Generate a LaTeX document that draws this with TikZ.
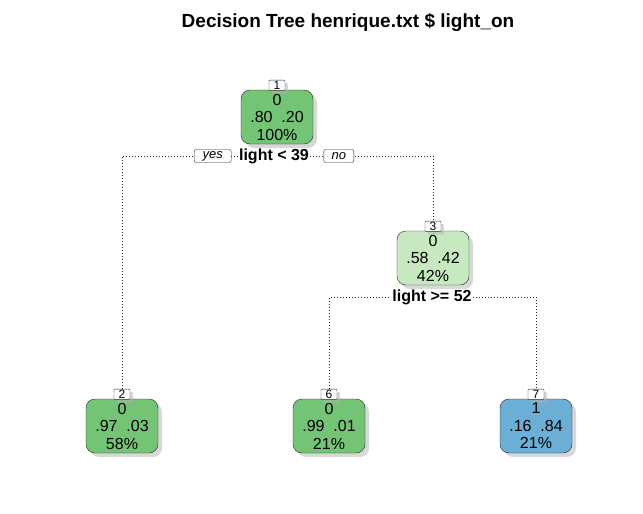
\documentclass[tikz,border=0pt]{standalone}
\usepackage{fontspec}
\setmainfont{Liberation Sans}
\usetikzlibrary{positioning,shadows,backgrounds}
\definecolor{dgreen}{RGB}{116,196,118}
\definecolor{lgreen}{RGB}{199,233,192}
\definecolor{mblue}{RGB}{107,174,214}

\begin{document}
\begin{tikzpicture}[x=1pt,y=-1pt,
    treenode/.style={draw=black!85,rounded corners=9pt,minimum width=72pt,minimum height=54pt,inner sep=0pt,align=center,
      font=\fontsize{16}{17.5}\selectfont,drop shadow={shadow xshift=4pt,shadow yshift=-4pt,fill=black!30,opacity=.5}},
    numbox/.style={draw=black!85,fill=white,rounded corners=1pt,inner sep=0pt,minimum width=16pt,minimum height=10.5pt,
      font=\fontsize{12}{12}\selectfont,drop shadow={shadow xshift=3pt,shadow yshift=-3pt,fill=black!30,opacity=.5}},
    splitlab/.style={fill=white,inner sep=1pt,font=\fontsize{16}{16}\selectfont\bfseries},
    dirbox/.style={draw=black!85,fill=white,rounded corners=2pt,inner sep=0pt,minimum height=13pt,
      font=\fontsize{13}{13}\selectfont\itshape},
    edge/.style={black!85,line width=0.7pt,dash pattern=on 0.7pt off 2.3pt}]
    \useasboundingbox (0,0) rectangle (643,514);
    \node[font=\fontsize{19}{19}\selectfont\bfseries] (title) at (348,22) {Decision Tree henrique.txt \$ light\_on};
    % tree nodes
    \node[treenode,fill=dgreen] (n1) at (277,117) {0\\.80~~.20\\100\%};
    \node[treenode,fill=lgreen] (n3) at (433,258) {0\\.58~~.42\\42\%};
    \node[treenode,fill=dgreen] (n2) at (122,426) {0\\.97~~.03\\58\%};
    \node[treenode,fill=dgreen] (n6) at (329,426) {0\\.99~~.01\\21\%};
    \node[treenode,fill=mblue] (n7) at (536,426) {1\\.16~~.84\\21\%};
    \foreach \n in {1,3,2,6,7}{
      \node[numbox,above=-1pt of n\n] (lab\n) {\n};
    }
    % splits
    \node[splitlab] (split1) at (274,156) {light < 39};
    \node[dirbox,minimum width=37pt,left=6.5pt of split1] (yes1) {yes};
    \node[dirbox,minimum width=30pt,right=13.5pt of split1] (no1) {no};
    \node[splitlab] (split2) at (432,297) {light >= 52};
    \begin{scope}[on background layer]
      \draw[edge] (split1) -| (lab2);
      \draw[edge] (split1) -| (lab3);
      \draw[edge] (split2) -| (lab6);
      \draw[edge] (split2) -| (lab7);
    \end{scope}
\end{tikzpicture}
\end{document}
